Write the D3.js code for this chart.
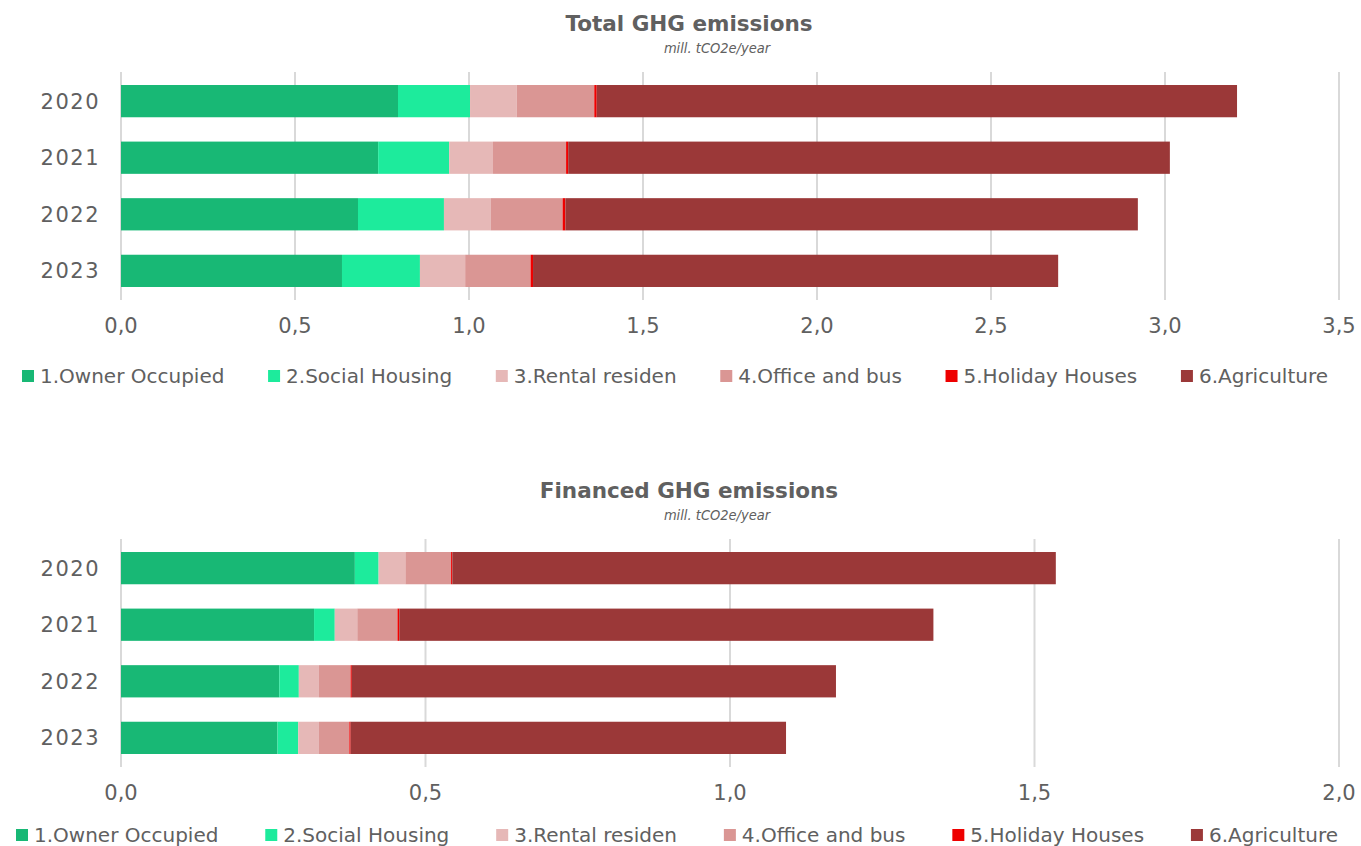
<!DOCTYPE html>
<html lang="en">
  <head>
    <meta charset="UTF-8" />
    <title>GHG emissions</title>
    <script src="https://d3js.org/d3.v7.min.js"></script>
    <style>
      body { margin: 0; background: #fff; }
      text { font-family: "DejaVu Sans", sans-serif; fill: #606060; }
      .sub { font-family: "DejaVu Sans Condensed", "DejaVu Sans", sans-serif; }
    </style>
  </head>
  <body>
    <div id="viz"></div>
    <script>
      // data
      const years = ["2020", "2021", "2022", "2023"];
      const categories = ["1.Owner Occupied", "2.Social Housing", "3.Rental residen", "4.Office and bus", "5.Holiday Houses", "6.Agriculture"];
      const colors = ["#18b875", "#1deb9c", "#e6b8b7", "#da9694", "#ee0000", "#9b3838"];

      // total emissions, mill. tCO2e/year
      const totalOwner    = [0.796, 0.739, 0.681, 0.635];
      const totalSocial   = [0.207, 0.204, 0.247, 0.224];
      const totalRental   = [0.134, 0.126, 0.134, 0.130];
      const totalOffice   = [0.223, 0.210, 0.207, 0.188];
      const totalHoliday  = [0.007, 0.006, 0.008, 0.007];
      const totalAgri     = [1.840, 1.729, 1.645, 1.509];
      const totalTicks = [0, 0.5, 1, 1.5, 2, 2.5, 3, 3.5];

      // financed emissions
      const finOwner   = [0.384, 0.317, 0.260, 0.257];
      const finSocial  = [0.039, 0.034, 0.032, 0.034];
      const finRental  = [0.044, 0.037, 0.033, 0.034];
      const finOffice  = [0.075, 0.066, 0.052, 0.050];
      const finHoliday = [0.002, 0.003, 0.002, 0.002];
      const finAgri    = [0.991, 0.877, 0.795, 0.715];
      const finTicks = [0, 0.5, 1, 1.5, 2];

      const W = 1361, H = 846;
      const svg = d3.select("#viz").append("svg").attr("width", W).attr("height", H);

      const fmt = d => d3.format(".1f")(d).replace(".", ",");

      function drawChart(top, title, series, ticks, legendY, legendStart, legendEnd) {
        const g = svg.append("g").attr("transform", "translate(0," + top + ")");
        const rows = years.map((y, i) => {
          const r = { year: y };
          categories.forEach((c, k) => (r[c] = series[k][i]));
          return r;
        });
        const stack = d3.stack().keys(categories)(rows);

        const x = d3.scaleLinear().domain([0, d3.max(ticks)]).range([121, 1339]);
        const y = d3.scaleBand().domain(years).range([72, 300]).paddingInner(0.43).paddingOuter(0.23);

        g.append("text").attr("x", 689).attr("y", 31).attr("text-anchor", "middle")
          .style("font-size", "21.5px").style("font-weight", "bold").text(title);
        g.append("text").attr("class", "sub").attr("x", 717).attr("y", 53).attr("text-anchor", "middle")
          .style("font-size", "14.5px").style("font-style", "italic").text("mill. tCO2e/year");

        g.selectAll(".grid").data(ticks).join("line")
          .attr("x1", d => x(d)).attr("x2", d => x(d))
          .attr("y1", 72).attr("y2", 300)
          .attr("stroke", "#d9d9d9").attr("stroke-width", 2);

        g.selectAll(".layer").data(stack).join("g")
          .attr("fill", (d, i) => colors[i])
          .selectAll("rect").data(d => d).join("rect")
          .attr("x", d => x(d[0]))
          .attr("width", d => x(d[1]) - x(d[0]))
          .attr("y", d => y(d.data.year))
          .attr("height", y.bandwidth());

        g.selectAll(".yl").data(years).join("text")
          .attr("x", 100).attr("y", d => y(d) + y.bandwidth() / 2)
          .attr("dy", "0.36em").attr("text-anchor", "end")
          .style("font-size", "21px").style("letter-spacing", "1.5px").text(d => d);

        g.selectAll(".xl").data(ticks).join("text")
          .attr("x", d => x(d)).attr("y", 333).attr("text-anchor", "middle")
          .style("font-size", "21px").text(fmt);

        // legend spread evenly between start and end
        const items = g.selectAll(".lg").data(categories).join("g");
        items.append("rect").attr("width", 12).attr("height", 12).attr("y", -6)
          .attr("fill", (d, i) => colors[i]);
        items.append("text").attr("x", 18).attr("dy", "0.36em")
          .style("font-size", "20px").text(d => d);
        const widths = [];
        items.each(function () { widths.push(this.getBBox().width); });
        const gap = (legendEnd - legendStart - d3.sum(widths)) / (categories.length - 1);
        let cx = legendStart;
        items.attr("transform", (d, i) => {
          const t = "translate(" + cx + "," + legendY + ")";
          cx += widths[i] + gap;
          return t;
        });
      }

      drawChart(0, "Total GHG emissions",
        [totalOwner, totalSocial, totalRental, totalOffice, totalHoliday, totalAgri],
        totalTicks, 376, 22, 1328);
      drawChart(467, "Financed GHG emissions",
        [finOwner, finSocial, finRental, finOffice, finHoliday, finAgri],
        finTicks, 368, 16, 1338);
    </script>
  </body>
</html>
